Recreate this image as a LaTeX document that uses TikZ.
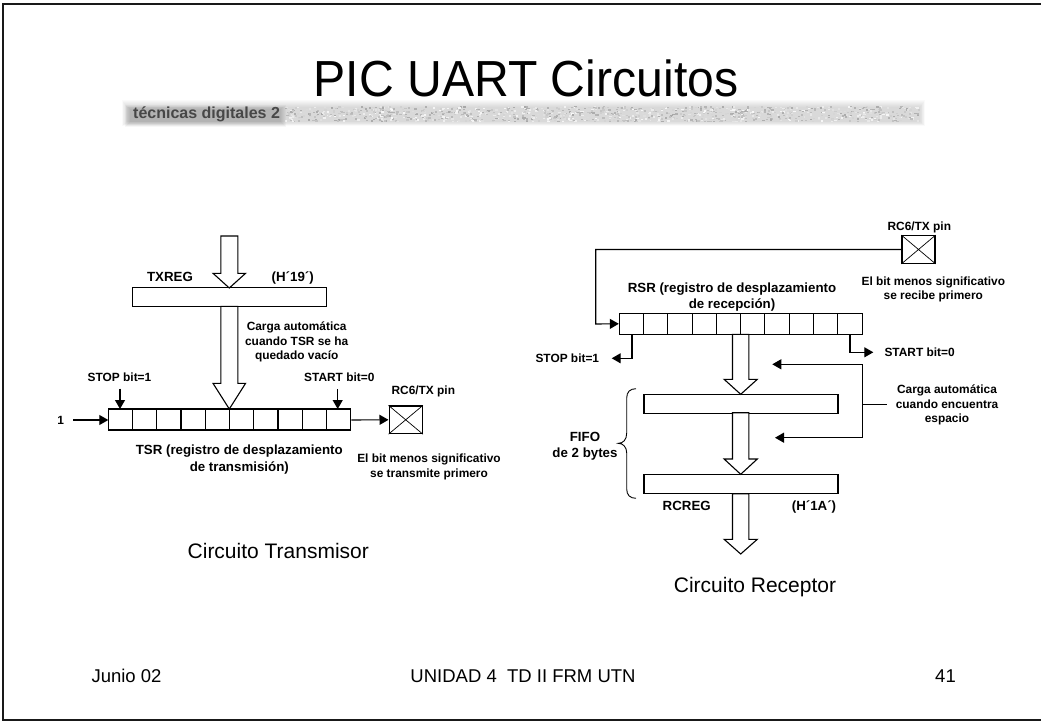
\documentclass[tikz,border=0pt]{standalone}
\usepackage{fontspec}
\setmainfont{Liberation Sans}
\usetikzlibrary{arrows.meta}
\tikzset{
  x=1pt,y=-1pt,
  lbl/.style={font=\bfseries\fontsize{11.9}{14.2}\selectfont,inner sep=0pt,align=center},
  lblb/.style={font=\bfseries\fontsize{13.3}{16.5}\selectfont,inner sep=0pt,align=center},
  plain/.style={font=\fontsize{18.5}{22}\selectfont,inner sep=0pt},
  capt/.style={font=\fontsize{21}{25}\selectfont,inner sep=0pt},
  wire/.style={line width=1.1pt,-{Triangle[length=9pt,width=10pt]}},
  line/.style={line width=1.1pt},
  box/.style={draw=black,line width=1.1pt,fill=white,inner sep=0pt,minimum width=0pt},
  fat/.style={draw=black,line width=1.1pt,fill=white,line join=miter}
}
\newcommand{\fatarrow}[6]{% cx, top, headstart, tip, halfshaft, halfhead
  \draw[fat] (#1-#5,#2) -- (#1-#5,#3) -- (#1-#6,#3) -- (#1,#4) -- (#1+#6,#3) -- (#1+#5,#3) -- (#1+#5,#2) -- cycle;
}
\begin{document}
\begin{tikzpicture}
\useasboundingbox (0,0) rectangle (1041,722);
\draw[line width=2pt,draw=black!90] (1041,4) -- (3.3,4) -- (3.3,720) -- (1041,720);
% banner: soft-edged grey band with speckle
\pgfmathsetseed{7}
\foreach \d in {0,1,...,7}{
  \fill[black,opacity=.018] (122+\d*.7,100+\d) rectangle (925-\d*.7,126-\d*.6);
}
\foreach \i in {1,...,1200}{
  \pgfmathsetmacro{\xa}{285+633*rnd}
  \pgfmathsetmacro{\ya}{106+15*rnd}
  \pgfmathsetmacro{\g}{int(3+32*rnd)}
  \fill[black!\g] (\xa,\ya) rectangle ++(2.2,1.5);
}
\foreach \d in {0,1,...,5}{
  \fill[black,opacity=.03] (125+\d,105+\d*.8) rectangle (286-\d,127-\d*.9);
}
\node[anchor=west,inner sep=0pt,text=black!72,font=\bfseries\fontsize{16}{18}\selectfont] (brand) at (133,114.5) {técnicas digitales 2};
\node[anchor=base,inner sep=0pt,font=\fontsize{50.7}{60}\selectfont,xscale=.95,transform shape] (title) at (526,97) {PIC UART Circuitos};

% LEFT CIRCUIT
\node[box,minimum width=194pt,minimum height=19.3pt] (txreg) at (229.7,296.7) {};
\fatarrow{229.3}{236}{273.3}{288}{8.5}{16.3}
\fatarrow{229.3}{306.3}{383.3}{409}{8.5}{16.3}
\node[box,minimum width=242.4pt,minimum height=21pt] (tsr) at (229.5,419.5) {};
\foreach \k in {1,...,9}{\draw[line] (108.3+24.24*\k,409) -- (108.3+24.24*\k,430);}
\node[lblb,anchor=base] (t1) at (170,281.2) {TXREG};
\node[lblb,anchor=base] (t2) at (292.7,281.2) {(H´19´)};
\node[lbl] (carga1) at (296.7,342) {Carga automática\\cuando TSR se ha\\quedado vacío};
\node[lbl,anchor=base] (stop1) at (119.5,381) {STOP bit=1};
\node[lbl,anchor=base] (start1) at (339.3,381) {START bit=0};
\node[lbl] (one) at (60.7,420.3) {1};
\coordinate (oneS) at (73.3,420);
\coordinate (stopS) at (120,388.7);
\coordinate (startS) at (337.7,389.3);
\draw[wire] (oneS) -- (108.3,420);
\draw[wire] (stopS) -- (120,409);
\draw[wire] (startS) -- (337.7,409);
\node[box,minimum width=33.3pt,minimum height=27.7pt] (pinL) at (405.7,419.8) {};
\draw[line width=.7pt] (pinL.north west) -- (pinL.south east) (pinL.north east) -- (pinL.south west);
\draw[wire] (tsr.east) ++(0,.5) -- (pinL.west);
\node[lbl] (pinLt) at (423.3,391) {RC6/TX pin};
\node[lblb] (tsrt) at (239.3,459.5) {TSR (registro de desplazamiento\\de transmisión)};
\node[lbl] (elbit1) at (429,467) {El bit menos significativo\\se transmite primero};
\node[capt] (ct) at (278.3,550.5) {Circuito Transmisor};

% RIGHT CIRCUIT
\node[box,minimum width=33pt,minimum height=27.6pt] (pinR) at (918.5,249.5) {};
\draw[line width=.7pt] (pinR.north west) -- (pinR.south east) (pinR.north east) -- (pinR.south west);
\node[box,minimum width=242.7pt,minimum height=21pt] (rsr) at (740.7,323.8) {};
\foreach \k in {1,...,9}{\draw[line] (619.3+24.27*\k,313.3) -- (619.3+24.27*\k,334.3);}
\draw[wire] (pinR.west) -- (595.7,249.5) -- (595.7,324) -- (rsr.west);
\node[lbl] (pinRt) at (919.3,227.3) {RC6/TX pin};
\node[lblb] (rsrt) at (732,297) {RSR (registro de desplazamiento\\de recepción)};
\node[lbl] (elbit2) at (933.3,289.3) {El bit menos significativo\\se recibe primero};
\coordinate (stopR) at (632,334.3);
\coordinate (startR) at (850,334.3);
\node[lbl,anchor=east] (stop2) at (599.3,358.7) {STOP bit=1};
\node[lbl,anchor=west] (start2) at (884.3,352.3) {START bit=0};
\draw[wire] (stopR) |- (611.7,358.3);
\draw[wire] (startR) |- (873.3,352.3);
\node[box,minimum width=194pt,minimum height=19.4pt] (b1) at (741,404) {};
\node[box,minimum width=194pt,minimum height=19pt] (b2) at (741,484.2) {};
\fatarrow{740.7}{334.3}{379.3}{394.3}{8.2}{16.6}
\fatarrow{740.7}{412.7}{459}{474.3}{8.2}{16.6}
\fatarrow{740.7}{493.7}{539.3}{554}{8.2}{16.6}
\node[lblb,anchor=base] (rcreg) at (686.7,510) {RCREG};
\node[lblb,anchor=base] (h1a) at (814,510) {(H´1A´)};
\coordinate (fbTop) at (772.3,364.3);
\coordinate (fbBot) at (775,437.7);
\coordinate (fbStub) at (886.7,404.7);
\draw[wire] (fbStub) -- (862.3,404.7) -- (862.3,364.3) -- (fbTop);
\draw[wire] (862.3,404.7) -- (862.3,437.7) -- (fbBot);
\node[lbl] (carga2) at (947,405) {Carga automática\\cuando encuentra\\espacio};
\draw[line width=.9pt] (636,388.7) .. controls (630,388.7) and (626.7,392) .. (626.7,398) -- (626.7,433) .. controls (626.7,440) and (623,443.3) .. (618.3,443.3) .. controls (623,443.3) and (626.7,447) .. (626.7,453) -- (626.7,489) .. controls (626.7,495) and (630,498.3) .. (636,498.3);
\node[lblb,font=\bfseries\fontsize{13.3}{16}\selectfont] (fifo) at (585,446.7) {FIFO\\de 2 bytes};
\node[capt] (cr) at (755,586.7) {Circuito Receptor};

% FOOTER
\node[plain,anchor=base] (fa) at (126.5,682) {Junio 02};
\node[plain,anchor=base] (fb) at (523,682) {UNIDAD 4\ \ TD II FRM UTN};
\node[plain,anchor=base] (fc) at (945.5,682) {41};
\end{tikzpicture}
\end{document}
